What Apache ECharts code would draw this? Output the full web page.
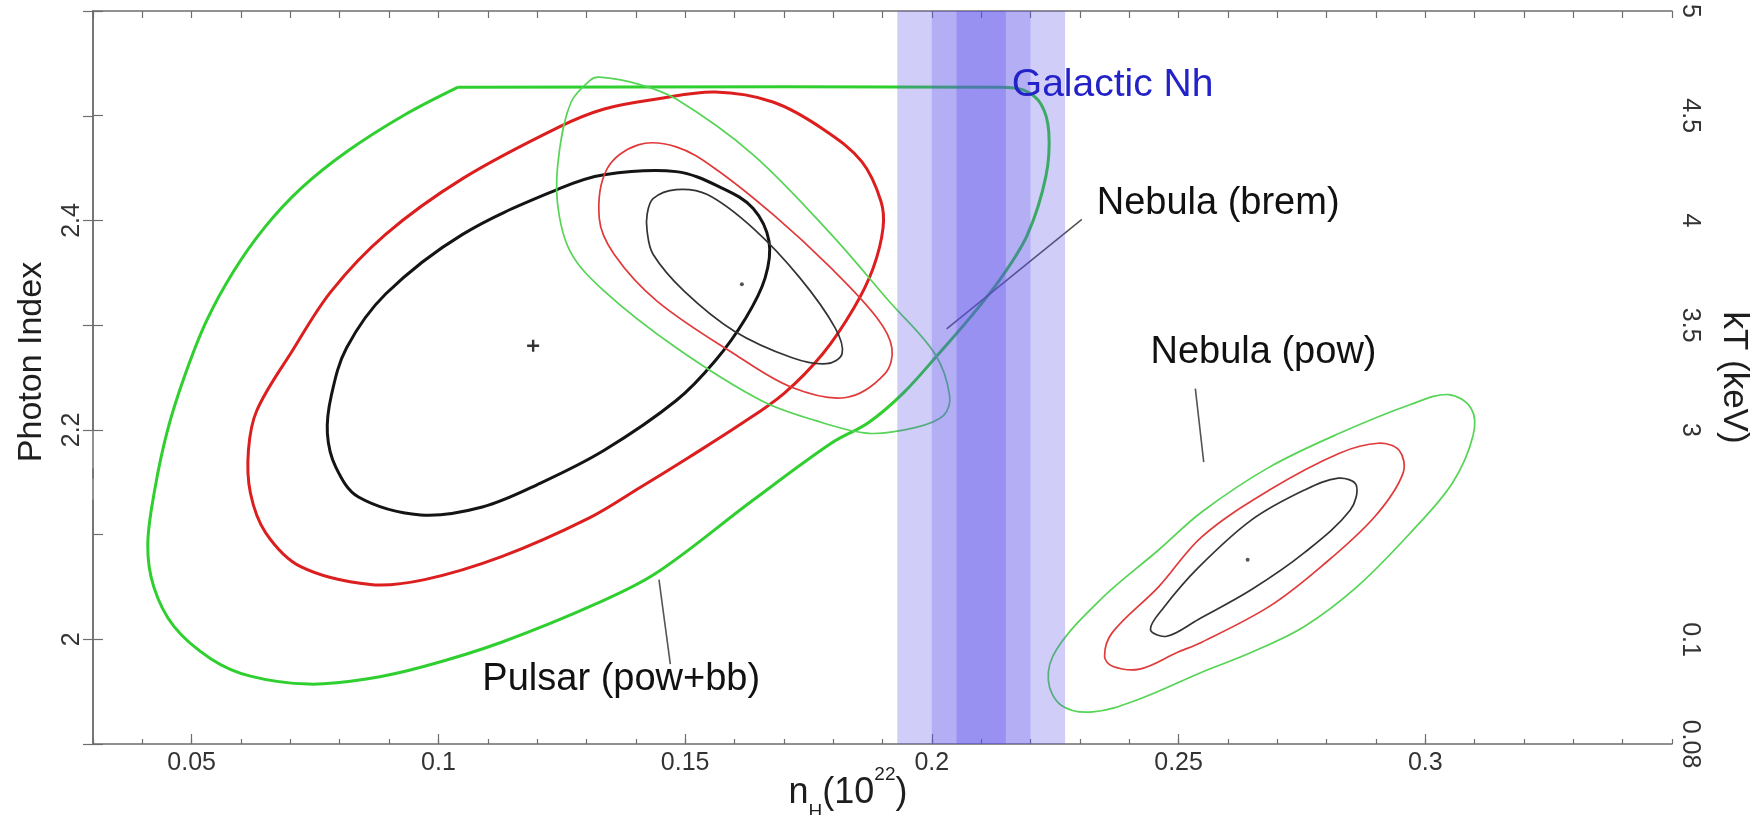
<!DOCTYPE html>
<html><head><meta charset="utf-8">
<script src="https://cdn.jsdelivr.net/npm/echarts@6/dist/echarts.min.js"></script>
<style>html,body{margin:0;padding:0;background:#fff}#c{width:1752px;height:815px}</style>
</head><body><div id="c"></div>
<script>
// ---------------- data ----------------
const xRange = [0.03, 0.35];
const yRange = [1.9, 2.6];
const xTickLabels = [0.05, 0.1, 0.15, 0.2, 0.25, 0.3];
const yTickLabels = [2, 2.2, 2.4];
const kTHighRange = [3, 5];
const kTHighTicks = [3, 3.5, 4, 4.5, 5];
const kTLowRange = [0.08, 0.1267];
const kTLowTicks = [0.08, 0.1, 0.12];

// Galactic Nh band: [from, to] for the three shades (outer, middle, core)
const galacticNhBands = [[0.193, 0.227], [0.200, 0.220], [0.205, 0.215]];

// Pulsar (pow+bb) confidence contours
const pulsarBlack = [[0.1049,2.3867],[0.1245,2.4304],[0.1336,2.4437],[0.1482,2.4466],[0.1577,2.4304],[0.1638,2.4114],[0.1670,2.3800],[0.1662,2.3449],[0.1623,2.3069],[0.1561,2.2660],[0.1482,2.2280],[0.1336,2.1805],[0.1207,2.1492],[0.1089,2.1264],[0.0964,2.1188],[0.0838,2.1359],[0.0792,2.1644],[0.0775,2.1967],[0.0783,2.2328],[0.0814,2.2784],[0.0893,2.3297]];
const pulsarRed = [[0.1049,2.4399],[0.1245,2.4893],[0.1336,2.5064],[0.1443,2.5159],[0.1561,2.5226],[0.1678,2.5131],[0.1779,2.4874],[0.1858,2.4561],[0.1897,2.4181],[0.1901,2.3924],[0.1881,2.3544],[0.1842,2.3164],[0.1779,2.2727],[0.1700,2.2347],[0.1609,2.2043],[0.1508,2.1739],[0.1407,2.1444],[0.1306,2.1159],[0.1128,2.0789],[0.0972,2.0570],[0.0862,2.0523],[0.0721,2.0694],[0.0650,2.1017],[0.0619,2.1397],[0.0615,2.1805],[0.0632,2.2185],[0.0704,2.2755],[0.0783,2.3325],[0.0893,2.3867]];
const pulsarGreen = [[0.1040,2.5273],[0.2135,2.5273],[0.2186,2.5245],[0.2221,2.5112],[0.2237,2.4846],[0.2231,2.4418],[0.2194,2.3867],[0.2140,2.3449],[0.2077,2.3069],[0.2014,2.2727],[0.1943,2.2356],[0.1872,2.2071],[0.1796,2.1872],[0.1638,2.1330],[0.1443,2.0637],[0.1326,2.0352],[0.1128,1.9972],[0.0972,1.9743],[0.0854,1.9620],[0.0737,1.9572],[0.0619,1.9648],[0.0540,1.9810],[0.0464,2.0123],[0.0423,2.0503],[0.0411,2.0903],[0.0425,2.1425],[0.0451,2.1995],[0.0486,2.2518],[0.0530,2.3040],[0.0585,2.3515],[0.0648,2.3934],[0.0721,2.4304],[0.0814,2.4656],[0.0931,2.5007],[0.1040,2.5273]];

// Nebula (brem) contours
const bremBlack = [[0.1423,2.4057],[0.1435,2.4209],[0.1482,2.4295],[0.1545,2.4247],[0.1638,2.3924],[0.1733,2.3449],[0.1804,2.2974],[0.1818,2.2727],[0.1787,2.2632],[0.1717,2.2689],[0.1599,2.2945],[0.1498,2.3325],[0.1435,2.3677],[0.1423,2.3895]];
const bremRed = [[0.1342,2.4494],[0.1405,2.4722],[0.1482,2.4703],[0.1561,2.4494],[0.1678,2.4057],[0.1796,2.3544],[0.1889,2.3069],[0.1919,2.2784],[0.1905,2.2537],[0.1826,2.2309],[0.1717,2.2404],[0.1599,2.2727],[0.1443,2.3230],[0.1356,2.3677],[0.1326,2.4019]];
const bremGreen = [[0.1326,2.5368],[0.1405,2.5302],[0.1482,2.5159],[0.1638,2.4627],[0.1796,2.3867],[0.1913,2.3230],[0.2006,2.2727],[0.2036,2.2328],[0.2024,2.2138],[0.1968,2.2024],[0.1872,2.1967],[0.1763,2.2090],[0.1654,2.2280],[0.1482,2.2784],[0.1336,2.3325],[0.1267,2.3705],[0.1241,2.4181],[0.1245,2.4656],[0.1269,2.5131],[0.1308,2.5340]];

// Nebula (pow) contours
const powBlack = [[0.2443,2.0095],[0.2470,2.0304],[0.2540,2.0684],[0.2648,2.1140],[0.2755,2.1425],[0.2824,2.1539],[0.2860,2.1473],[0.2848,2.1235],[0.2755,2.0827],[0.2648,2.0475],[0.2540,2.0190],[0.2476,2.0029]];
const powRed = [[0.2350,1.9838],[0.2366,2.0066],[0.2460,2.0503],[0.2547,2.0979],[0.2684,2.1425],[0.2826,2.1777],[0.2905,2.1872],[0.2947,2.1805],[0.2955,2.1587],[0.2897,2.1168],[0.2789,2.0694],[0.2684,2.0314],[0.2547,1.9972],[0.2498,1.9876],[0.2421,1.9715],[0.2366,1.9743]];
const powGreen = [[0.2236,1.9610],[0.2253,1.9905],[0.2342,2.0380],[0.2460,2.0855],[0.2547,2.1216],[0.2684,2.1644],[0.2826,2.1967],[0.2970,2.2242],[0.3047,2.2337],[0.3093,2.2204],[0.3097,2.1948],[0.3055,2.1492],[0.2970,2.1017],[0.2862,2.0503],[0.2755,2.0123],[0.2648,1.9876],[0.2547,1.9686],[0.2421,1.9430],[0.2326,1.9306],[0.2262,1.9370]];

// best-fit points
const pulsarBest = [0.1192, 2.2803];
const bremBest = [0.1615, 2.3390];
const powBest = [0.2640, 2.0760];

// annotation leader lines
const bremLeader = [[0.2304, 2.4010], [0.2030, 2.2964]];
const pulsarLeader = [[0.1447, 2.0570], [0.1470, 1.9762]];
const powLeader = [[0.2534, 2.2394], [0.2551, 2.1691]];

// annotation texts and anchor points (left edge, vertical middle)
const labelNames = ['Galactic Nh', 'Nebula (brem)', 'Nebula (pow)', 'Pulsar (pow+bb)'];
const labelX = [0.2162, 0.2334, 0.2443, 0.1089];
const labelY = [2.5292, 2.4160, 2.2736, 1.9620];

// ---------------- styles ----------------
const FONT = "'Liberation Sans', Arial, Helvetica, sans-serif";
const AXIS_COLOR = '#6e6e6e';
const LABEL_COLOR = '#333333';
const TITLE_COLOR = '#1e1e1e';
const BAND_COLORS = ['rgba(90,80,235,0.285)', 'rgba(90,80,235,0.238)', 'rgba(90,80,235,0.31)'];
const labelColors = ['#2222c8', '#111111', '#111111', '#111111'];
const labelSizes = [39, 38, 38, 38];

function fmt(v) { return String(+v.toFixed(3)); }

function contour(pts, color, width, closed) {
  return {
    type: 'custom', xAxisIndex: 0, yAxisIndex: 0, z: 2, silent: true, clip: true,
    data: pts, encode: { x: 0, y: 1 },
    renderItem: function (params, api) {
      if (params.dataIndex !== 0) return null;
      const points = pts.map(p => api.coord(p));
      return {
        type: closed ? 'polygon' : 'polyline',
        shape: { points: points, smooth: 0.35 },
        style: { fill: 'none', stroke: color, lineWidth: width }
      };
    }
  };
}
function leader(pts) {
  return { type: 'line', xAxisIndex: 0, yAxisIndex: 0, z: 3, silent: true, data: pts,
    symbol: 'none', lineStyle: { color: '#555', width: 1.6 } };
}

const chart = echarts.init(document.getElementById('c'), null, { renderer: 'canvas' });

const hiddenX = gi => ({ gridIndex: gi, type: 'value', show: false, min: 0, max: 1 });
const G = (o) => Object.assign({ left: 93, right: 80, outerBoundsMode: 'none', containLabel: false }, o);

const option = {
  animation: false,
  backgroundColor: '#ffffff',
  textStyle: { fontFamily: FONT },
  grid: [
    G({ top: 11, bottom: 71 }),
    G({ top: 11, height: 419 }),
    G({ top: 500, bottom: 71 }),
    G({ top: 469, height: 9 })
  ],
  xAxis: [
    {
      gridIndex: 0, type: 'value', position: 'bottom', min: xRange[0], max: xRange[1], interval: 0.01,
      axisLine: { lineStyle: { color: AXIS_COLOR, width: 1.5 } },
      axisTick: { inside: true, length: 5, lineStyle: { color: AXIS_COLOR, width: 1.2 } },
      splitLine: { show: false },
      axisLabel: {
        margin: 7, fontSize: 25, color: LABEL_COLOR, fontFamily: FONT,
        formatter: v => xTickLabels.some(t => Math.abs(t - v) < 1e-6) ? fmt(v) : ''
      },
      name: '{b|n}{s|H}{b|(10}{p|22}{b|)}', nameLocation: 'middle', nameGap: 21, nameMoveOverlap: false,
      nameTextStyle: {
        padding: [0, 69, 0, 0],
        rich: {
          b: { fontSize: 36, lineHeight: 56, verticalAlign: 'middle', color: TITLE_COLOR, fontFamily: FONT },
          s: { fontSize: 19, lineHeight: 44, verticalAlign: 'bottom', color: TITLE_COLOR, fontFamily: FONT },
          p: { fontSize: 19, lineHeight: 20, verticalAlign: 'top', color: TITLE_COLOR, fontFamily: FONT }
        }
      }
    },
    {
      gridIndex: 0, type: 'value', position: 'bottom', min: xRange[0], max: xRange[1], splitNumber: 6,
      axisLine: { show: false },
      axisTick: { inside: true, length: 10, customValues: xTickLabels, lineStyle: { color: AXIS_COLOR, width: 1.2 } },
      axisLabel: { show: false }, splitLine: { show: false }
    },
    {
      gridIndex: 0, type: 'value', position: 'top', min: xRange[0], max: xRange[1], interval: 0.01,
      axisLine: { lineStyle: { color: AXIS_COLOR, width: 1.5 } },
      axisTick: { inside: true, length: 7, lineStyle: { color: AXIS_COLOR, width: 1.2 } },
      axisLabel: { show: false }, splitLine: { show: false }
    },
    hiddenX(1), hiddenX(2), hiddenX(3)
  ],
  yAxis: [
    {
      gridIndex: 0, type: 'value', position: 'left', min: yRange[0], max: yRange[1], interval: 0.1,
      axisLine: { lineStyle: { color: AXIS_COLOR, width: 1.5 } },
      axisTick: { inside: true, length: 10, lineStyle: { color: AXIS_COLOR, width: 1.2 } },
      splitLine: { show: false },
      axisLabel: {
        rotate: 90, margin: 8, fontSize: 25, color: LABEL_COLOR, fontFamily: FONT,
        formatter: v => yTickLabels.some(t => Math.abs(t - v) < 1e-6) ? fmt(v) : ''
      },
      name: 'Photon Index', nameLocation: 'middle', nameRotate: 90, nameGap: 44, nameMoveOverlap: false,
      nameTextStyle: { fontSize: 34, color: TITLE_COLOR, fontFamily: FONT, padding: [0, 0, 0, 31] }
    },
    {
      gridIndex: 0, type: 'value', position: 'right', min: 0, max: 1,
      axisLine: { show: false }, axisTick: { show: false }, axisLabel: { show: false }, splitLine: { show: false },
      name: 'kT (keV)', nameLocation: 'middle', nameRotate: -90, nameGap: 44, nameMoveOverlap: false,
      nameTextStyle: { fontSize: 35, color: TITLE_COLOR, fontFamily: FONT }
    },
    {
      gridIndex: 1, type: 'value', position: 'right', min: kTHighRange[0], max: kTHighRange[1], interval: 0.5,
      axisLine: { lineStyle: { color: AXIS_COLOR, width: 1.5 } },
      axisTick: { inside: true, length: 10, lineStyle: { color: AXIS_COLOR, width: 1.2 } },
      splitLine: { show: false },
      axisLabel: { rotate: -90, margin: 5, fontSize: 25, color: LABEL_COLOR, fontFamily: FONT,
        formatter: v => kTHighTicks.some(t => Math.abs(t - v) < 1e-6) ? fmt(v) : '' }
    },
    {
      gridIndex: 2, type: 'value', position: 'right', min: kTLowRange[0], max: kTLowRange[1], interval: 0.02,
      axisLine: { lineStyle: { color: AXIS_COLOR, width: 1.5 } },
      axisTick: { inside: true, length: 10, customValues: kTLowTicks, lineStyle: { color: AXIS_COLOR, width: 1.2 } },
      splitLine: { show: false },
      axisLabel: { rotate: -90, margin: 5, fontSize: 25, color: LABEL_COLOR, fontFamily: FONT,
        customValues: kTLowTicks, showMaxLabel: false,
        formatter: v => kTLowTicks.some(t => Math.abs(t - v) < 1e-6) ? fmt(v) : '' }
    },
    {
      gridIndex: 3, type: 'value', position: 'right', min: 0, max: 1,
      axisLine: { lineStyle: { color: AXIS_COLOR, width: 1.5 } },
      axisTick: { show: false }, axisLabel: { show: false }, splitLine: { show: false }
    }
  ],
  series: [
    contour(pulsarGreen, '#2fcf2f', 3, false),
    contour(pulsarRed, '#dc1e1e', 3, true),
    contour(pulsarBlack, '#141414', 3, true),
    contour(bremGreen, '#55d455', 1.7, true),
    contour(bremRed, '#e03a3a', 1.7, true),
    contour(bremBlack, '#333333', 1.7, true),
    contour(powGreen, '#55d455', 1.7, true),
    contour(powRed, '#e03a3a', 1.7, true),
    contour(powBlack, '#333333', 1.7, true),
    leader(bremLeader), leader(pulsarLeader), leader(powLeader),
    {
      type: 'scatter', xAxisIndex: 0, yAxisIndex: 0, z: 4, silent: true,
      data: [pulsarBest],
      symbol: 'path://M4,0H6V10H4ZM0,4H10V6H0Z', symbolSize: 12,
      itemStyle: { color: '#333', opacity: 1 }
    },
    {
      type: 'scatter', xAxisIndex: 0, yAxisIndex: 0, z: 4, silent: true,
      data: [bremBest, powBest], symbol: 'circle', symbolSize: 4,
      itemStyle: { color: '#555', opacity: 1 }
    },
    {
      type: 'custom', xAxisIndex: 0, yAxisIndex: 0, z: 10, silent: true, clip: false,
      data: galacticNhBands, encode: { x: [0, 1] },
      renderItem: function (params, api) {
        const cs = params.coordSys;
        const x0 = api.coord([api.value(0), yRange[0]])[0];
        const x1 = api.coord([api.value(1), yRange[0]])[0];
        return { type: 'rect', shape: { x: x0, y: cs.y, width: x1 - x0, height: cs.height },
          style: { fill: BAND_COLORS[params.dataIndex] } };
      }
    },
    {
      type: 'scatter', xAxisIndex: 0, yAxisIndex: 0, z: 12, silent: true,
      symbolSize: 0.1, itemStyle: { color: 'rgba(0,0,0,0)', opacity: 1 },
      data: labelNames.map((n, i) => ({ name: n, value: [labelX[i], labelY[i]],
        label: { color: labelColors[i], fontSize: labelSizes[i], opacity: 1 } })),
      label: { show: true, position: 'right', distance: 0, fontFamily: FONT, opacity: 1,
        formatter: p => p.name }
    }
  ]
};
chart.setOption(option);
</script></body></html>
